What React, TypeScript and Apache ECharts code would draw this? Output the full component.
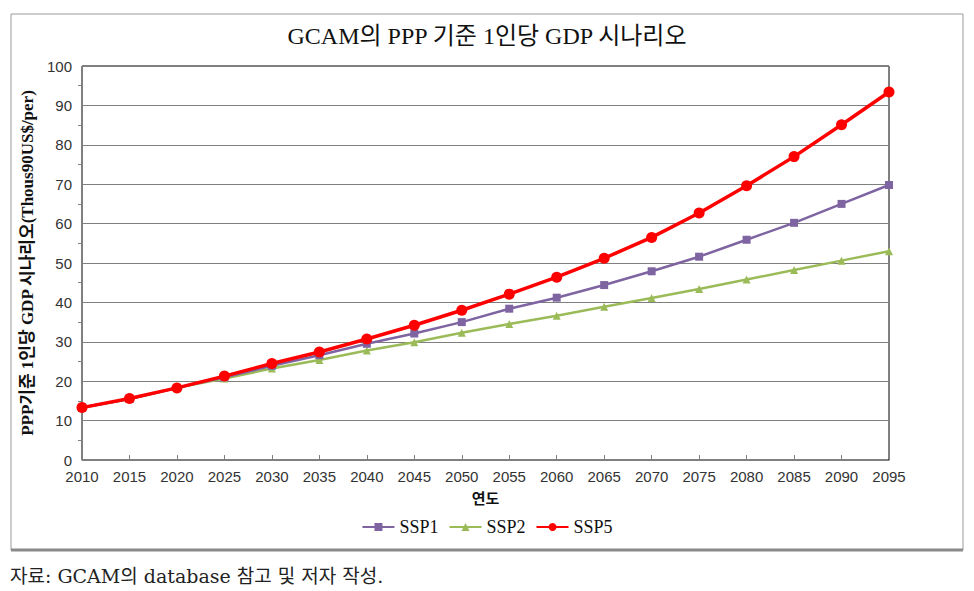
import React, { useEffect, useRef } from "react";
import * as echarts from "echarts";

const years = ["2010","2015","2020","2025","2030","2035","2040","2045","2050","2055","2060","2065","2070","2075","2080","2085","2090","2095"];
const ssp1 = [13.3, 15.5, 18.3, 21.0, 23.9, 26.6, 29.5, 32.1, 35.0, 38.4, 41.2, 44.4, 47.9, 51.6, 55.9, 60.2, 65.0, 69.8];
const ssp2 = [13.3, 15.5, 18.3, 20.7, 23.2, 25.4, 27.8, 29.9, 32.3, 34.5, 36.6, 38.9, 41.1, 43.4, 45.8, 48.2, 50.6, 53.0];
const ssp5 = [13.3, 15.6, 18.3, 21.3, 24.5, 27.4, 30.7, 34.2, 38.0, 42.1, 46.4, 51.2, 56.5, 62.7, 69.6, 77.0, 85.1, 93.4];
const seriesNames = ["SSP1", "SSP2", "SSP5"];

const SERIF = "'Liberation Serif', 'Noto Sans CJK KR', serif";
const WIDE_SERIF = "'DejaVu Serif', 'Noto Sans CJK KR', serif";
const SANS = "'Liberation Sans', 'Noto Sans CJK KR', sans-serif";

export default function App() {
  const ref = useRef<HTMLDivElement>(null);
  useEffect(() => {
    if (!ref.current) return;
    const chart = echarts.init(ref.current, null, { renderer: "svg" });
    chart.setOption({
      animation: false,
      backgroundColor: "#ffffff",
      title: {
        text: "GCAM의 PPP 기준 1인당 GDP 시나리오",
        left: "center",
        top: 19,
        textStyle: { fontFamily: SERIF, fontSize: 24, fontWeight: "normal", color: "#111" },
      },
      graphic: [
        {
          type: "rect",
          shape: { x: 11, y: 14, width: 952, height: 536 },
          style: { fill: "none", stroke: "#9a9a9a", lineWidth: 1 },
          z: -1,
        },
        {
          type: "line",
          shape: { x1: 11, y1: 550, x2: 963, y2: 550 },
          style: { stroke: "#8a8a8a", lineWidth: 3 },
        },
        {
          type: "text",
          left: 10,
          top: 566,
          style: { text: "자료: GCAM의 database 참고 및 저자 작성.", font: `19px ${WIDE_SERIF}`, fill: "#222" },
        },
      ],
      legend: {
        data: seriesNames,
        bottom: 50,
        left: "center",
        itemWidth: 32,
        itemHeight: 10,
        itemGap: 10,
        textStyle: { fontFamily: SERIF, fontSize: 18, color: "#111" },
      },
      grid: { left: 82, right: 85, top: 66, bottom: 131, show: true, borderColor: "#000", borderWidth: 1 },
      xAxis: {
        type: "category",
        data: years,
        boundaryGap: false,
        name: "연도",
        nameLocation: "middle",
        nameGap: 31,
        nameTextStyle: { fontFamily: SERIF, fontSize: 15, fontWeight: "bold", color: "#111" },
        axisLine: { lineStyle: { color: "#808080", width: 1 } },
        axisTick: { show: true, inside: true, length: 5, alignWithLabel: true, lineStyle: { color: "#808080" } },
        axisLabel: { interval: 0, fontFamily: SANS, fontSize: 15, color: "#333", margin: 9 },
        splitLine: { show: false },
      },
      yAxis: {
        type: "value",
        min: 0,
        max: 100,
        interval: 10,
        name: "PPP기준 1인당 GDP 시나리오(Thous90US$/per)",
        nameLocation: "middle",
        nameRotate: 90,
        nameGap: 45,
        nameTextStyle: { fontFamily: SERIF, fontSize: 17, fontWeight: "bold", color: "#111" },
        axisLine: { show: true, lineStyle: { color: "#808080", width: 1 } },
        axisTick: { show: false },
        minorTick: { show: true, splitNumber: 2, length: 4, lineStyle: { color: "#808080" } },
        axisLabel: { fontFamily: SANS, fontSize: 15, color: "#333", margin: 10 },
        splitLine: { show: true, lineStyle: { color: "#7f7f7f", width: 1 } },
      },
      series: [
        {
          name: "SSP1",
          type: "line",
          data: ssp1,
          symbol: "rect",
          symbolSize: 8,
          lineStyle: { color: "#7f64a2", width: 2.5 },
          itemStyle: { color: "#7f64a2" },
          z: 2,
        },
        {
          name: "SSP2",
          type: "line",
          data: ssp2,
          symbol: "triangle",
          symbolSize: 8,
          lineStyle: { color: "#9bbb59", width: 2.5 },
          itemStyle: { color: "#9bbb59" },
          z: 1,
        },
        {
          name: "SSP5",
          type: "line",
          data: ssp5,
          symbol: "circle",
          symbolSize: 11,
          lineStyle: { color: "#ff0000", width: 3.5 },
          itemStyle: { color: "#ff0000" },
          z: 3,
        },
      ],
    });
    return () => chart.dispose();
  }, []);
  return <div ref={ref} style={{ width: 974, height: 591, position: "absolute", left: 0, top: 0 }} />;
}
